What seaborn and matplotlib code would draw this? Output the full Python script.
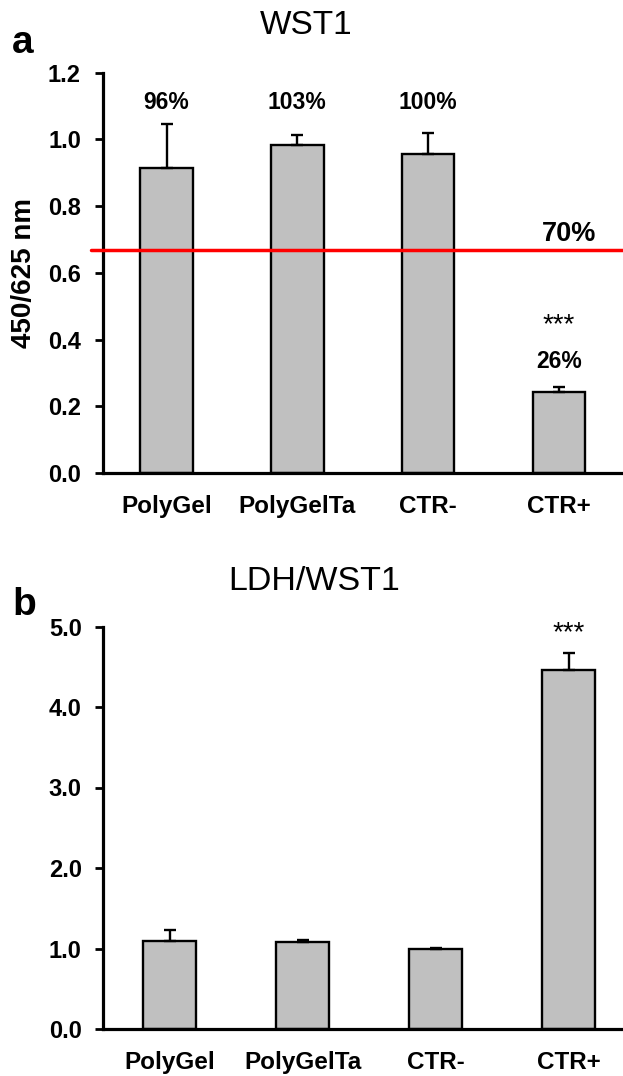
import numpy as np
import pandas as pd
import matplotlib
matplotlib.use("Agg")
import matplotlib.pyplot as plt
import seaborn as sns

# data
groups = ["PolyGel", "PolyGelTa", "CTR-", "CTR+"]

# WST1 absorbance (450/625 nm), mean + upper SD
wst1_mean = [0.915, 0.982, 0.957, 0.244]
wst1_err = [0.130, 0.031, 0.063, 0.013]
wst1_pct = ["96%", "103%", "100%", "26%"]
threshold = 0.667  # 70% viability line

# LDH/WST1 ratio, mean + upper SD
ldh_mean = [1.097, 1.077, 1.000, 4.46]
ldh_err = [0.133, 0.029, 0.005, 0.215]

sns.set_style("ticks")
plt.rcParams['font.family'] = ['Liberation Sans', 'DejaVu Sans']
for key in ["text.color", "axes.labelcolor", "xtick.color", "ytick.color",
            "axes.edgecolor"]:
    plt.rcParams[key] = "black"

W, H = 623, 1076
fig = plt.figure(figsize=(W / 100, H / 100), dpi=100)

ax_a = fig.add_axes([102.5 / W, 1 - 473 / H, 1 - 102.5 / W, (473 - 72.7) / H])
ax_b = fig.add_axes([103.3 / W, 1 - 1029 / H, 1 - 103.3 / W, (1029 - 626.5) / H])

bar_color = "#C0C0C0"


def draw_bars(ax, means, errs):
    sns.barplot(x=groups, y=means, color=bar_color, edgecolor="black",
                linewidth=1.7, width=0.4, saturation=1, ax=ax)
    ax.errorbar(np.arange(len(groups)), means,
                yerr=[np.zeros(len(errs)), errs], fmt="none",
                ecolor="black", elinewidth=1.7, capsize=4.5, capthick=1.7)
    sns.despine(ax=ax)
    for side in ["left", "bottom"]:
        ax.spines[side].set_linewidth(2.3)
        ax.spines[side].set_color("black")
    ax.tick_params(axis="y", length=5.5, width=2.0, pad=10, labelsize=17,
                   colors="black")
    ax.tick_params(axis="x", length=0, pad=16, labelsize=17.5, colors="black")
    for lab in ax.get_xticklabels() + ax.get_yticklabels():
        lab.set_fontweight("bold")
    ax.set_xlabel("")


# panel a - WST1
draw_bars(ax_a, wst1_mean, wst1_err)
ax_a.set_xlim(-0.49, 3.49)
ax_a.set_ylim(0, 1.2)
ax_a.set_yticks(np.arange(0, 1.21, 0.2))
ax_a.set_yticklabels([f"{v:.1f}" for v in np.arange(0, 1.21, 0.2)])
for lab in ax_a.get_yticklabels():
    lab.set_fontweight("bold")
ax_a.set_ylabel("450/625 nm", fontsize=20, fontweight="bold", labelpad=8)

ax_a.axhline(threshold, xmin=-0.022, xmax=1, color="#FF0000", lw=2.5,
             clip_on=False, zorder=5)
ax_a.text(3.08, 0.715, "70%", ha="center", va="center", fontsize=19.5,
          fontweight="bold")
for i in range(3):
    ax_a.text(i, 1.11, wst1_pct[i], ha="center", va="center", fontsize=16.5,
              fontweight="bold")
ax_a.text(3, 0.334, wst1_pct[3], ha="center", va="center", fontsize=16.5,
          fontweight="bold")
ax_a.text(3, 0.444, "***", ha="center", va="center", fontsize=20)

# panel b - LDH/WST1
draw_bars(ax_b, ldh_mean, ldh_err)
ax_b.set_xlim(-0.5, 3.41)
ax_b.set_ylim(0, 5)
ax_b.set_yticks(np.arange(0, 5.1, 1.0))
ax_b.set_yticklabels([f"{v:.1f}" for v in np.arange(0, 5.1, 1.0)])
for lab in ax_b.get_yticklabels():
    lab.set_fontweight("bold")
ax_b.set_ylabel("")
ax_b.text(3, 4.92, "***", ha="center", va="center", fontsize=20)

# titles and panel letters
fig.text(306 / W, 1 - 25 / H, "WST1", ha="center", va="center", fontsize=24)
fig.text(314 / W, 1 - 581.7 / H, "LDH/WST1", ha="center", va="center",
         fontsize=24.5)
fig.text(22.6 / W, 1 - 43 / H, "a", ha="center", va="center", fontsize=28,
         fontweight="bold")
fig.text(24 / W, 1 - 605 / H, "b", ha="center", va="center", fontsize=28,
         fontweight="bold")

fig.savefig("out.png", dpi=100)
